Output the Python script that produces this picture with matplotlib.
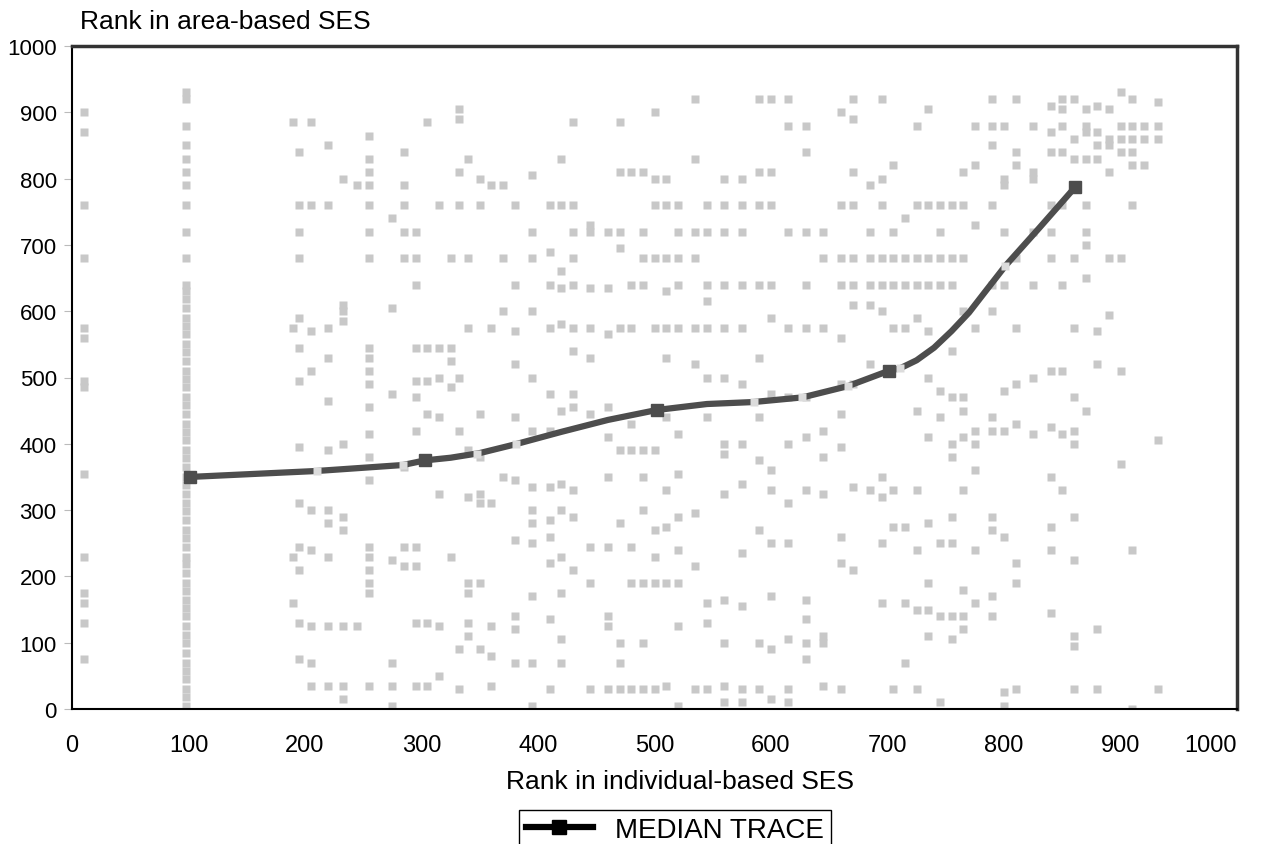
import matplotlib.pyplot as plt

# background scatter: (x, [y, ...])
pts_edge = [
    (10, [900, 870, 760, 680, 575, 560, 495, 485, 355, 230, 175, 160, 130, 75]),
    (98, [930, 920, 880, 850, 830, 810, 790, 760, 720, 680, 640,
          630, 618, 605, 590, 578, 565, 550, 538, 525, 510, 498, 485, 470, 458,
          445, 430, 418, 405, 390, 378, 365, 350, 338, 325, 310, 298, 285, 270,
          258, 245, 230, 218, 205, 190, 178, 165, 152, 140, 125, 112, 100, 85,
          70, 58, 45, 30, 18, 5]),
]

pts_left = [
    (190, [885, 575, 230, 160]),
    (195, [840, 760, 720, 680, 590, 545, 495, 395, 310, 245, 210, 130, 75]),
    (205, [885, 760, 570, 510, 300, 240, 125, 70, 35]),
    (220, [850, 760, 575, 530, 465, 390, 300, 280, 230, 125, 35]),
    (233, [800, 610, 600, 585, 400, 290, 270, 125, 35, 15]),
    (245, [790, 125]),
    (255, [865, 830, 810, 790, 760, 720, 680, 545, 530, 510, 490, 455, 415,
           380, 345, 245, 230, 210, 190, 175, 35]),
    (275, [740, 605, 475, 225, 70, 35, 5]),
    (285, [840, 790, 760, 720, 680, 365, 245, 215]),
    (295, [720, 680, 640, 545, 495, 470, 420, 245, 215, 130, 35]),
    (305, [885, 545, 495, 445, 130, 35]),
    (315, [760, 545, 500, 440, 325, 125, 50]),
    (325, [680, 545, 525, 485, 230]),
    (332, [905, 890, 810, 760, 500, 420, 90, 30]),
    (340, [830, 680, 575, 390, 320, 190, 175, 130, 110]),
    (350, [800, 760, 445, 380, 325, 310, 190, 90]),
    (360, [790, 575, 310, 125, 80, 35]),
    (370, [790, 680, 600, 350]),
    (380, [760, 640, 570, 520, 440, 345, 255, 140, 120, 70]),
    (395, [805, 720, 680, 600, 500, 420, 335, 300, 280, 250, 170, 70, 5]),
    (410, [760, 690, 640, 575, 475, 420, 335, 285, 260, 220, 135, 30]),
    (420, [830, 760, 660, 635, 580, 450, 340, 300, 230, 175, 105, 70]),
    (430, [885, 760, 720, 680, 640, 575, 540, 475, 455, 330, 290, 210]),
    (445, [730, 720, 635, 575, 530, 445, 245, 190, 30]),
    (460, [720, 635, 565, 455, 410, 350, 245, 140, 125, 30]),
    (470, [885, 810, 720, 695, 575, 390, 280, 100, 70, 30]),
    (480, [810, 640, 575, 430, 390, 245, 190, 30]),
    (490, [810, 720, 680, 640, 390, 350, 300, 190, 100, 30]),
]

pts_mid = [
    (500, [900, 800, 760, 680, 575, 390, 270, 230, 190, 30]),
    (510, [800, 760, 680, 630, 575, 530, 440, 330, 275, 190, 35]),
    (520, [760, 720, 680, 640, 575, 415, 355, 290, 240, 190, 125, 5]),
    (535, [920, 830, 720, 680, 575, 520, 295, 215, 30]),
    (545, [760, 720, 640, 615, 575, 500, 440, 160, 130, 30]),
    (560, [800, 760, 720, 640, 575, 500, 400, 385, 325, 165, 100, 35, 10]),
    (575, [800, 760, 720, 640, 575, 490, 400, 340, 235, 155, 30, 10]),
    (590, [920, 810, 760, 640, 530, 440, 375, 270, 100, 30]),
    (600, [920, 810, 760, 640, 590, 475, 360, 330, 250, 170, 90, 15]),
    (615, [920, 880, 720, 575, 470, 400, 310, 250, 105, 30, 10]),
    (630, [880, 840, 720, 640, 575, 470, 410, 330, 165, 135, 100, 75]),
    (645, [720, 680, 575, 420, 380, 325, 110, 100, 35]),
    (660, [900, 760, 680, 640, 560, 490, 445, 395, 260, 220, 30]),
    (670, [920, 890, 810, 760, 680, 640, 610, 490, 335, 210]),
    (685, [790, 720, 680, 640, 610, 520, 330]),
    (695, [920, 800, 760, 680, 640, 600, 350, 320, 250, 160]),
    (705, [820, 720, 680, 640, 575, 330, 275, 30]),
    (715, [740, 680, 640, 575, 275, 160, 70]),
]

pts_right = [
    (725, [880, 760, 680, 640, 590, 450, 330, 240, 150, 30]),
    (735, [905, 760, 680, 640, 570, 500, 410, 280, 190, 150, 110]),
    (745, [760, 720, 680, 640, 480, 440, 250, 140, 10]),
    (755, [760, 680, 640, 540, 470, 400, 380, 290, 250, 140, 105]),
    (765, [810, 760, 680, 600, 470, 450, 410, 330, 180, 140, 120]),
    (775, [880, 820, 730, 575, 420, 400, 360, 240, 160]),
    (790, [920, 880, 850, 760, 640, 600, 440, 420, 290, 270, 170, 140]),
    (800, [880, 800, 790, 720, 640, 480, 420, 260, 25, 5]),
    (810, [920, 840, 820, 680, 575, 490, 430, 220, 190, 30]),
    (825, [880, 810, 800, 720, 640, 500, 415]),
    (840, [910, 870, 840, 760, 720, 680, 510, 425, 350, 275, 240, 145]),
    (850, [920, 905, 880, 840, 760, 640, 510, 415, 330]),
    (860, [920, 860, 830, 680, 575, 470, 420, 400, 290, 225, 110, 95, 30]),
    (870, [905, 880, 870, 830, 760, 720, 700, 650, 450]),
    (880, [910, 870, 850, 830, 570, 520, 120, 30]),
    (890, [905, 860, 850, 810, 680, 595]),
    (900, [930, 880, 860, 840, 680, 510, 370]),
    (910, [920, 880, 860, 840, 820, 760, 240, 0]),
    (920, [880, 860, 820]),
    (932, [915, 880, 860, 405, 30]),
]

# median trace
trace_x = [101, 210, 284, 303, 325, 350, 380, 420, 460, 502, 545, 585, 627,
           666, 701, 711, 725, 740, 755, 770, 785, 801, 830, 861]
trace_y = [350, 359, 368, 375, 379, 386, 399, 418, 436, 451, 460, 463, 470,
           487, 510, 514, 526, 545, 570, 598, 632, 668, 725, 787]
main_x = [101, 303, 502, 701, 861]
main_y = [350, 375, 451, 510, 787]
light_x = [210, 284, 348, 381, 585, 627, 666, 711, 801]
light_y = [359, 368, 385, 400, 463, 470, 487, 514, 668]

xticks = list(range(0, 1001, 100))
yticks = list(range(0, 1001, 100))

plt.rcParams["font.family"] = ["Liberation Sans", "DejaVu Sans"]

fig = plt.figure(figsize=(12.63, 8.45), dpi=100)
ax = fig.add_axes([72 / 1263, 1 - 710 / 845, (1237 - 72) / 1263, (710 - 47) / 845])

for group in [pts_edge, pts_left, pts_mid, pts_right]:
    xs = [x for x, ys in group for y in ys]
    ys_ = [y for x, ys in group for y in ys]
    ax.plot(xs, ys_, "s", color="#c8c8c8", ms=6, mec="none", zorder=1)

ax.plot(trace_x, trace_y, "-", color="#4d4d4d", lw=4.5, solid_capstyle="round",
        solid_joinstyle="round", zorder=2)
ax.plot(main_x, main_y, "s", color="#4d4d4d", ms=9, zorder=3)
ax.plot(light_x, light_y, "s", color="#dcdcdc", ms=6, mec="none", zorder=3)

ax.set_xlim(0, 1000)
ax.set_ylim(0, 1000)
ax.set_xticks(xticks)
ax.set_yticks(yticks)
ax.tick_params(axis="x", length=0, pad=18, labelsize=17)
ax.tick_params(axis="y", length=6, color="#bbbbbb", pad=5, labelsize=16)
ax.get_xticklabels()[-1].set_horizontalalignment("right")
ax.get_xticklabels()[-1].set_x(1015)

for side in ["left", "bottom"]:
    ax.spines[side].set_color("black")
    ax.spines[side].set_linewidth(1.5)
for side in ["top", "right"]:
    ax.spines[side].set_color("#333333")
    ax.spines[side].set_linewidth(2.5)

fig.text(80 / 1263, 1 - 22 / 845, "Rank in area-based SES", fontsize=19,
         ha="left", va="center")
fig.text(680 / 1263, 1 - 782 / 845, "Rank in individual-based SES", fontsize=19,
         ha="center", va="center")

leg_line, = ax.plot([], [], "-s", color="black", lw=4.5, ms=10)
fig.legend([leg_line], ["MEDIAN TRACE"], loc="upper center",
           bbox_to_anchor=(675 / 1263, 1 - 811 / 845), fontsize=20,
           frameon=True, fancybox=False, edgecolor="black", handlelength=2.4,
           borderpad=0.25, borderaxespad=0, framealpha=1)

fig.savefig("out.png", dpi=100)
